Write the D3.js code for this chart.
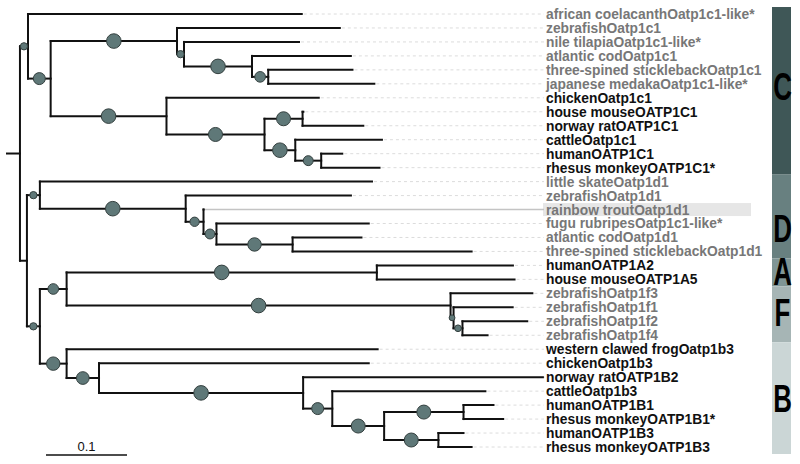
<!DOCTYPE html>
<html><head><meta charset="utf-8">
<script src="https://cdn.jsdelivr.net/npm/d3@7/dist/d3.min.js"></script>
<style>html,body{margin:0;padding:0;background:#fff}svg{display:block}</style>
</head><body>
<svg id="chart" width="800" height="464"></svg>
<script>
// Topology with branch lengths (substitutions/site); leaf names are indices into leafNames,
// internal node labels are bootstrap-like support values (drawn as circles).
const newick = "((0:0.338,((1:0.201,(2:0.142,(3:0.122,(4:0.104,5:0.131)73:0.020)100:0.084)50:0.0086)100:0.156,(6:0.188,((7:0.001,8:0.075)96:0.047,(9:0.107,(10:0.026,11:0.072)68:0.032)100:0.038)96:0.121)100:0.143)82:0.028)50:0.0099,((12:0.41,(13:0.204,(14:0.0,(15:0.188,(16:0.085,17:0.221)92:0.094)68:0.016)64:0.022)100:0.180)50:0.016,(((18:0.168,19:0.170)100:0.383,(20:0.101,(21:0.073,(22:0.080,23:0.031)46:0.011)40:0.0037)100:0.474)73:0.033,(24:0.384,(25:0.333,(26:0.296,(27:0.189,((28:0.037,29:0.049)96:0.098,(30:0.031,31:0.041)96:0.067)96:0.064)82:0.036)100:0.252)87:0.040)92:0.033)50:0.016):0.0086):0.016;";

const leafNames = [
  "african coelacanthOatp1c1-like*","zebrafishOatp1c1","nile tilapiaOatp1c1-like*","atlantic codOatp1c1",
  "three-spined sticklebackOatp1c1","japanese medakaOatp1c1-like*","chickenOatp1c1","house mouseOATP1C1",
  "norway ratOATP1C1","cattleOatp1c1","humanOATP1C1","rhesus monkeyOATP1C1*",
  "little skateOatp1d1","zebrafishOatp1d1","rainbow troutOatp1d1","fugu rubripesOatp1c1-like*",
  "atlantic codOatp1d1","three-spined sticklebackOatp1d1","humanOATP1A2","house mouseOATP1A5",
  "zebrafishOatp1f3","zebrafishOatp1f1","zebrafishOatp1f2","zebrafishOatp1f4",
  "western clawed frogOatp1b3","chickenOatp1b3","norway ratOATP1B2","cattleOatp1b3",
  "humanOATP1B1","rhesus monkeyOATP1B1*","humanOATP1B3","rhesus monkeyOATP1B3"
];
// 1 = fish (grey label), 0 = tetrapod (black label)
const leafIsFish = [1,1,1,1,1,1,0,0,0,0,0,0,1,1,1,1,1,1,0,0,1,1,1,1,0,0,0,0,0,0,0,0];
const highlightedLeaf = "rainbow troutOatp1d1";

const cladeNames = ["C","D","A","F","B"];
const cladeFirstLeaf = [0,12,18,20,24];
const cladeLastLeaf = [11,17,19,23,31];
const cladeLabelLeafPos = [5.2,15.35,18.4,21.4,27.5];
const cladeColors = ["#3f5757","#688080","#7f9595","#a6b5b5","#cbd6d6"];

const scaleBarValue = 0.1;
const scaleBarLabel = "0.1";

// ---------- parse ----------
function parseNewick(s){
  let i=0;
  function node(){
    const n={children:[]};
    if(s[i]==='('){
      i++; n.children.push(node());
      while(s[i]===','){i++; n.children.push(node());}
      i++;
    }
    let name='';
    while(i<s.length && !',():;'.includes(s[i])) name+=s[i++];
    n.name=name;
    n.length=0;
    if(s[i]===':'){i++; let len=''; while(i<s.length && !',();'.includes(s[i])) len+=s[i++]; n.length=+len;}
    if(!n.children.length) delete n.children;
    return n;
  }
  return node();
}

const root = d3.hierarchy(parseNewick(newick));
root.each(d=>{ d.dist = (d.parent?d.parent.dist:0) + d.data.length; });

const svg = d3.select("#chart");
const x = d3.scaleLinear().domain([0, 0.1]).range([7, 88]);
const leaves = root.leaves();
const y = d3.scalePoint().domain(d3.range(leaves.length)).range([14, 447]);
const step = y.step();
leaves.forEach((l,i)=>{ l.idx=i; l.y=y(i); l.name=leafNames[+l.data.name]; });
root.eachAfter(d=>{ if(d.children){ d.y=(d.children[0].y + d.children[d.children.length-1].y)/2; } });
root.each(d=>{ d.x = x(d.dist); d.px = d.parent ? d.parent.x : x(0); });

const labelX = 546;

// highlight rectangle behind highlighted label
const hl = leaves.find(l=>l.name===highlightedLeaf);
svg.append("rect").attr("x",543).attr("y",hl.y-6.5).attr("width",208).attr("height",13)
  .attr("fill","#e6e6e6");

// leader lines
svg.append("g").selectAll("line").data(leaves).join("line")
  .attr("x1",d=>d.x+2).attr("x2",labelX-2).attr("y1",d=>d.y).attr("y2",d=>d.y)
  .attr("stroke",d=>d.name===highlightedLeaf?"#c4c4c4":"#dcdcdc")
  .attr("stroke-width",d=>d.name===highlightedLeaf?1.6:1)
  .attr("stroke-dasharray",d=>d.name===highlightedLeaf?null:"3,3")
  .filter(d=>d.name===highlightedLeaf).attr("x1",d=>d.x);

// branches
const g = svg.append("g").attr("stroke","#111").attr("stroke-width",2).attr("fill","none").attr("stroke-linecap","square");
root.each(d=>{
  g.append("line").attr("x1",d.px).attr("x2",d.x).attr("y1",d.y).attr("y2",d.y);
  if(d.children){
    g.append("line").attr("x1",d.x).attr("x2",d.x)
      .attr("y1",d.children[0].y).attr("y2",d.children[d.children.length-1].y);
  }
});

// support circles
const r = d3.scaleLinear().domain([0,100]).range([0,7.3]);
const supp = root.descendants().filter(d=>d.children && d.data.name!=="" && d.parent);
svg.append("g").selectAll("circle").data(supp).join("circle")
  .attr("cx",d=>(d.px+d.x)/2).attr("cy",d=>d.y).attr("r",d=>r(+d.data.name))
  .attr("fill","#5f7878").attr("stroke","#34403f").attr("stroke-width",1);

// labels
svg.append("g").selectAll("text").data(leaves).join("text")
  .attr("x",labelX).attr("y",d=>d.y).attr("dy","0.36em")
  .attr("font-family","'Liberation Sans', Arial, sans-serif").attr("font-weight","bold")
  .attr("font-size","13.8px")
  .attr("fill",d=>leafIsFish[+d.data.name]?"#777777":"#111111")
  .text(d=>d.name);

// clade bands
const bands = svg.append("g");
cladeNames.forEach((c,i)=>{
  const y0 = y(cladeFirstLeaf[i]) - step/2, y1 = y(cladeLastLeaf[i]) + step/2;
  bands.append("rect").attr("x",772).attr("y",y0).attr("width",19).attr("height",y1-y0).attr("fill",cladeColors[i]);
});
cladeNames.forEach((c,i)=>{
  const cy = 14 + cladeLabelLeafPos[i]*step;
  bands.append("text").attr("transform",`translate(782.5,${cy+13.5}) scale(0.68,1)`)
    .attr("text-anchor","middle").attr("font-family","'Liberation Sans', Arial, sans-serif")
    .attr("font-weight","bold").attr("font-size","38px").attr("fill","#000").text(c);
});

// scale bar
const sbx = 46, sby = 455;
svg.append("line").attr("x1",sbx).attr("x2",sbx + x(scaleBarValue)-x(0)).attr("y1",sby).attr("y2",sby)
  .attr("stroke","#111").attr("stroke-width",1.5);
svg.append("text").attr("x",sbx + (x(scaleBarValue)-x(0))/2).attr("y",sby-4).attr("text-anchor","middle")
  .attr("font-family","'Liberation Sans', Arial, sans-serif").attr("font-size","13px").attr("fill","#111")
  .text(scaleBarLabel);
</script>
</body></html>
